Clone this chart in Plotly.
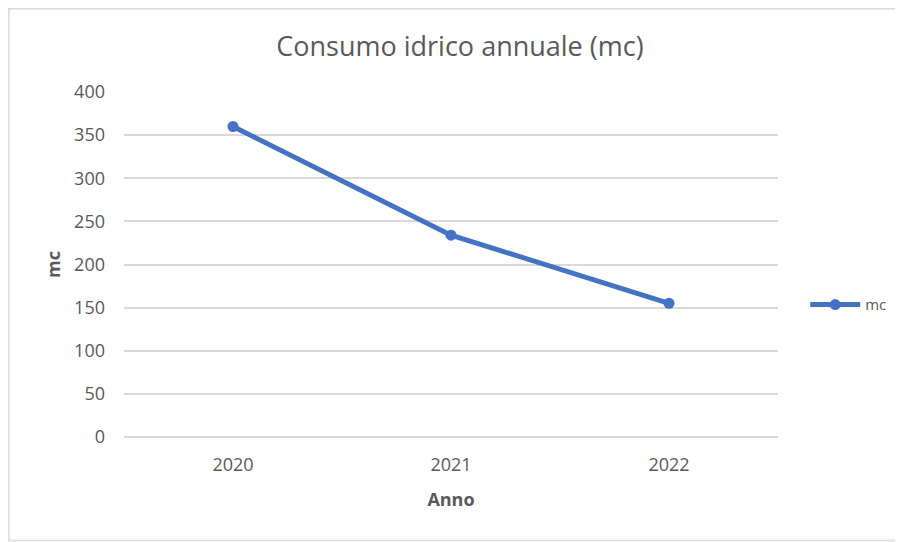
import plotly.graph_objects as go

# data
anni = ["2020", "2021", "2022"]
consumo_mc = [360, 234, 155]
y_ticks = [0, 50, 100, 150, 200, 250, 300, 350, 400]

line_color = "#4472C4"
text_color = "#595959"
font_family = "Open Sans"

# the page puts the plot 8px in from the corner, so the figure is a bit smaller
W, H = 895, 534
L, T = 116, 84
PW, PH = 655, 345

fig = go.Figure()
fig.add_trace(go.Scatter(
    x=anni, y=consumo_mc, name="mc", mode="lines+markers",
    line=dict(color=line_color, width=5),
    marker=dict(color=line_color, size=11),
))

fig.update_layout(
    width=W, height=H,
    margin=dict(l=L, r=W - L - PW, t=T, b=H - T - PH),
    paper_bgcolor="white", plot_bgcolor="white",
    font=dict(family=font_family, color=text_color, size=18),
    title=dict(text="Consumo idrico annuale (mc)", x=0.505, xanchor="center",
               y=1 - 39 / H, yanchor="middle",
               font=dict(size=27, color=text_color, family=font_family)),
    showlegend=True,
    legend=dict(x=1.04, y=0.383, xanchor="left", yanchor="middle",
                font=dict(size=15, color=text_color), itemwidth=50,
                bgcolor="rgba(0,0,0,0)"),
)

fig.update_xaxes(
    type="category", range=[-0.5, 2.5],
    showgrid=False, showline=False, zeroline=False, ticks="",
    ticklabelstandoff=15,
    tickfont=dict(size=18, color=text_color),
    title=dict(text="<b>Anno</b>", font=dict(size=18, color=text_color), standoff=18),
)
fig.update_yaxes(
    range=[0, 400], tickvals=y_ticks,
    showgrid=True, gridcolor="#D9D9D9", gridwidth=1.5,
    zeroline=True, zerolinecolor="#D9D9D9", zerolinewidth=1.5,
    showline=False, ticks="", ticklabelstandoff=18,
    tickfont=dict(size=18, color=text_color),
    title=dict(text="<b>mc</b>", font=dict(size=18, color=text_color), standoff=8),
)

# chart border
fig.add_shape(type="rect", xref="paper", yref="paper",
              x0=(0.75 - L) / PW, x1=(891.5 - L) / PW,
              y0=(T + PH - 532.5) / PH, y1=(T + PH - 0.75) / PH,
              line=dict(color="#D9D9D9", width=1.5), layer="below")

fig.write_html("out.html")
